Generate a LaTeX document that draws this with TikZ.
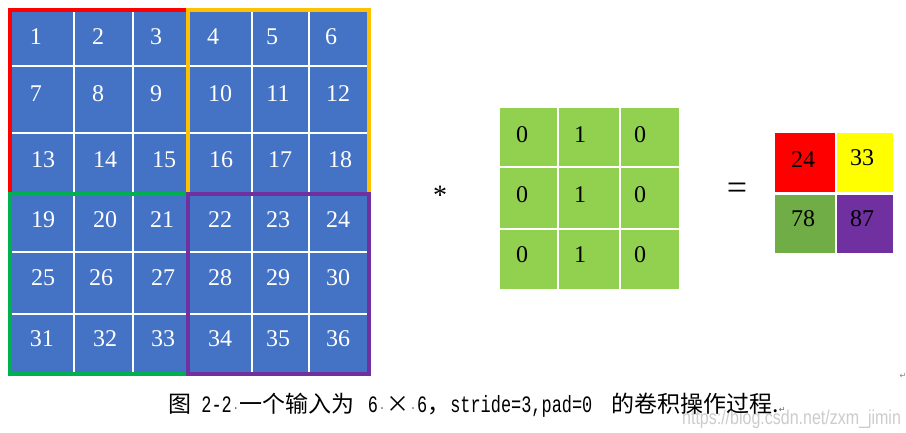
\documentclass[tikz,border=0pt]{standalone}
\usepackage{fontspec}
\setmainfont{Liberation Serif}
\newfontfamily\cjk{Noto Sans CJK SC}
\newfontfamily\monof[FakeStretch=0.72]{Liberation Mono}
\newfontfamily\symf{DejaVu Sans}
\newfontfamily\wmf{Liberation Sans}
\newcommand\lat[1]{{\monof\fontsize{23.5}{23.5}\selectfont #1}}
\newcommand\spmark{{\rmfamily\fontsize{12}{12}\selectfont\,·\,}}
\definecolor{cellblue}{HTML}{4472C4}
\definecolor{kgreen}{HTML}{92D050}
\definecolor{oyellow}{HTML}{FFFF00}
\definecolor{ogreen}{HTML}{70AD47}
\definecolor{opurple}{HTML}{7030A0}
\definecolor{borange}{HTML}{FFC000}
\definecolor{bgreen}{HTML}{00B050}
\definecolor{bpurple}{HTML}{7030A0}
\begin{document}
\begin{tikzpicture}[x=1pt,y=-1pt,
  innum/.style={text=white,inner sep=0pt,font=\fontsize{24}{24}\selectfont},
  blacknum/.style={text=black,inner sep=0pt,font=\fontsize{24}{24}\selectfont},
  gridline/.style={white,line width=2.2pt},
  region/.style={line width=4pt},
  kcell/.style={fill=kgreen,draw=none,inner sep=0pt},
  ocell/.style={draw=none,inner sep=0pt}]
\useasboundingbox[fill=white] (0,0) rectangle (906,433);

% input grid
\fill[cellblue] (10,10) rectangle (369,374);
\foreach \x in {74,133,252,309} \draw[gridline] (\x,10) -- (\x,374);
\foreach \y in {66,133,252,314} \draw[gridline] (10,\y) -- (369,\y);
\draw[region,red] (10,10) rectangle (188,194);
\draw[region,borange] (188,10) rectangle (369,194);
\draw[region,bgreen] (10,194) rectangle (188,374);
\draw[region,bpurple] (188,194) rectangle (369,374);

\foreach \n/\x/\y in {1/36/37,2/98/37,3/156/37,4/213/37,5/272/37,6/331/37,
  7/36/94,8/98/94,9/156/94,10/220/94,11/278/94,12/338/94,
  13/43/160,14/105/160,15/164/160,16/221/160,17/280/160,18/340/160,
  19/43/220,20/105/220,21/162/220,22/220/220,23/278/220,24/338/220,
  25/43/278,26/101/278,27/163/278,28/220/278,29/278/278,30/338/278,
  31/42/339,32/105/339,33/163/339,34/220/339,35/278/339,36/338/339}
  \node[innum] (n\n) at (\x,\y) {\n};

% operator
\node[inner sep=0pt,font=\fontsize{28}{28}\selectfont] (ast) at (440,195) {*};

% kernel
\foreach \c/\cx/\cw in {1/528.5/57,2/589/60,3/650/58}
  \foreach \r/\ry/\rh in {1/137/58,2/198/60,3/259.5/59}
    \node[kcell,minimum width=\cw pt,minimum height=\rh pt] (k\r\c) at (\cx,\ry) {};
\foreach \r/\y in {1/135,2/195,3/255}{
  \node[blacknum] (kt\r1) at (522,\y) {0};
  \node[blacknum] (kt\r2) at (580,\y) {1};
  \node[blacknum] (kt\r3) at (640,\y) {0};
}

\node[inner sep=0pt,font=\fontsize{36}{36}\selectfont] (eq) at (737,191) {=};

% output
\node[ocell,fill=red,minimum width=60pt,minimum height=59pt] (o11) at (805,162.5) {};
\node[ocell,fill=oyellow,minimum width=56pt,minimum height=59pt] (o12) at (865,162.5) {};
\node[ocell,fill=ogreen,minimum width=60pt,minimum height=58pt] (o21) at (805,224) {};
\node[ocell,fill=opurple,minimum width=56pt,minimum height=58pt] (o22) at (865,224) {};
\node[blacknum] (ot11) at (803,160) {24};
\node[blacknum] (ot12) at (862,158) {33};
\node[blacknum] (ot21) at (803,219) {78};
\node[blacknum] (ot22) at (862,219) {87};

% watermark
\node[anchor=base west,inner sep=0pt,text=black!20,xscale=0.8,
  font=\wmf\fontsize{20}{20}\selectfont] (wm) at (682,424) {https://blog.csdn.net/zxm\_jimin};

% caption
\node[anchor=base west,inner sep=0pt,font=\cjk\fontsize{23}{23}\selectfont] (cap) at (168,412)
  {图\lat{ 2-2}\spmark 一个输入为\hspace{3pt}\lat{ 6}\spmark ×\spmark\lat{6}，\lat{stride=3,pad=0 }\hspace{9pt}的卷积操作过程.{\symf\fontsize{8}{8}\selectfont\color{black!60}↵}};

\node[inner sep=0pt,text=black!50,font=\symf\fontsize{8}{8}\selectfont] (mark) at (903,376) {↵};
\end{tikzpicture}
\end{document}
